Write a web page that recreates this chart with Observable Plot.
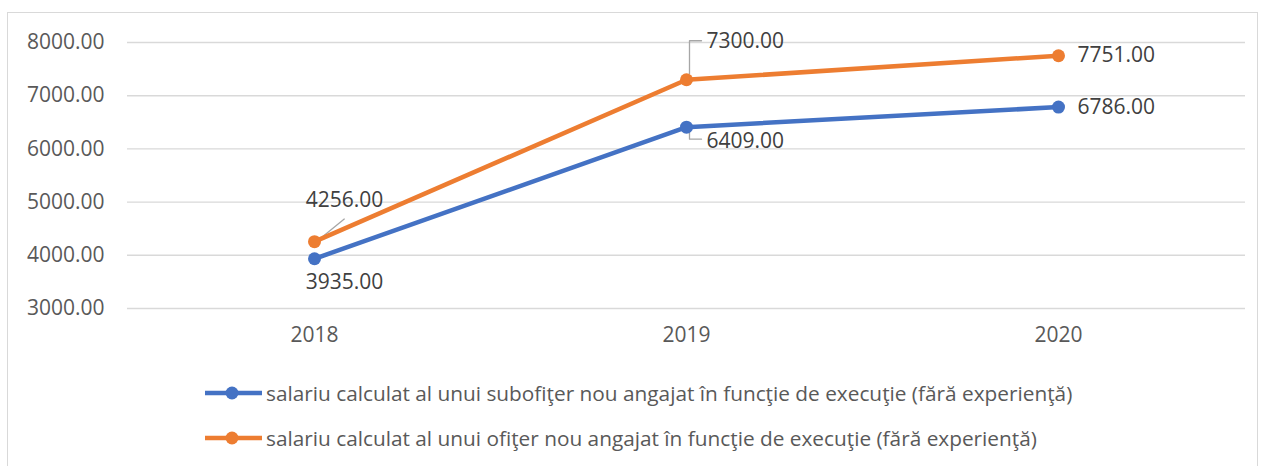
<!DOCTYPE html>
<html><head><meta charset="utf-8">
<script src="https://cdn.jsdelivr.net/npm/d3@7"></script>
<script src="https://cdn.jsdelivr.net/npm/@observablehq/plot@0.6"></script>
<style>
body{margin:0;background:#fff;font-family:"Open Sans",sans-serif;overflow:hidden;}
#frame{position:absolute;left:7px;top:12px;width:1249px;height:480px;border:1px solid #d9d9d9;border-bottom:none;}
#legend{padding-top:7px;margin-left:197px;}
.row{display:flex;align-items:center;height:45px;font-size:20.8px;color:#595959;white-space:nowrap;}
.row svg{margin-right:0;}
</style></head><body>
<div id="frame"><div id="chart"></div><div id="legend"></div></div>
<script>
const years = ["2018", "2019", "2020"];
const subofiterValues = [3935, 6409, 6786];
const ofiterValues = [4256, 7300, 7751];
const seriesNames = [
  "salariu calculat al unui subofiţer nou angajat în funcţie de execuţie (fără experienţă)",
  "salariu calculat al unui ofiţer nou angajat în funcţie de execuţie (fără experienţă)"
];
const seriesColors = ["#4472C4", "#ED7D31"];
const yTicks = [3000, 4000, 5000, 6000, 7000, 8000];

const rows = [
  ...years.map((year, i) => ({year, value: subofiterValues[i], series: seriesNames[0]})),
  ...years.map((year, i) => ({year, value: ofiterValues[i], series: seriesNames[1]}))
];
const pick = (s, y) => rows.filter(d => d.series === seriesNames[s] && d.year === y);
const fmt = d => d.toFixed(2);
const labelStyle = {x: "year", y: "value", text: d => fmt(d.value), fontSize: 21, fill: "#404040"};

// leader-line shapes
const straight = {draw(ctx, l) { ctx.moveTo(0, 0); ctx.lineTo(0, -l); }};
const elbowUp = {draw(ctx, l) { ctx.moveTo(0, 0); ctx.lineTo(0, -l); ctx.lineTo(12, -l); }};
const elbowDown = {draw(ctx, l) { ctx.moveTo(0, 0); ctx.lineTo(0, l); ctx.lineTo(12, l); }};
const leader = {x: "year", y: "value", stroke: "#a6a6a6", strokeWidth: 1.3, anchor: "start"};

const chart = Plot.plot({
  width: 1249,
  height: 350,
  marginLeft: 119,
  marginRight: 12,
  marginTop: 29,
  marginBottom: 55,
  style: {fontFamily: "Open Sans, sans-serif", fontSize: "21px", background: "transparent"},
  x: {type: "point", domain: years, padding: 0.5},
  y: {domain: [3000, 8000]},
  color: {domain: seriesNames, range: seriesColors},
  marks: [
    Plot.gridY(yTicks, {stroke: "#d9d9d9", strokeOpacity: 1, strokeWidth: 1.4}),
    Plot.axisY(yTicks, {tickSize: 0, tickPadding: 23, tickFormat: fmt, fontSize: 21, color: "#595959", label: null}),
    Plot.axisX({tickSize: 0, tickPadding: 19, fontSize: 21, color: "#595959", label: null}),
    Plot.vector(pick(1, "2018"), {...leader, length: 28, rotate: 51, dx: 8, dy: -5, shape: straight}),
    Plot.vector(pick(1, "2019"), {...leader, length: 33, dx: 3, dy: -6, shape: elbowUp}),
    Plot.vector(pick(0, "2019"), {...leader, length: 8, dx: 3, dy: 4, shape: elbowDown}),
    Plot.line(rows, {x: "year", y: "value", z: "series", stroke: "series", strokeWidth: 4.5}),
    Plot.dot(rows, {x: "year", y: "value", fill: "series", r: 6.5}),
    Plot.text(pick(1, "2018"), {...labelStyle, dx: 30, dy: -41}),
    Plot.text(pick(0, "2018"), {...labelStyle, dx: 30, dy: 24}),
    Plot.text(pick(1, "2019"), {...labelStyle, textAnchor: "start", dx: 20, dy: -38}),
    Plot.text(pick(0, "2019"), {...labelStyle, textAnchor: "start", dx: 20, dy: 14}),
    Plot.text(pick(1, "2020"), {...labelStyle, textAnchor: "start", dx: 19, dy: 0}),
    Plot.text(pick(0, "2020"), {...labelStyle, textAnchor: "start", dx: 19, dy: 0})
  ]
});
document.getElementById("chart").appendChild(chart);

const legend = document.getElementById("legend");
seriesNames.forEach((name, i) => {
  const row = document.createElement("div");
  row.className = "row";
  row.innerHTML = `<svg width="61" height="20"><line x1="0" x2="57" y1="10" y2="10" stroke="${seriesColors[i]}" stroke-width="4.5"/><circle cx="27" cy="10" r="6.5" fill="${seriesColors[i]}"/></svg><span>${name}</span>`;
  legend.appendChild(row);
});
</script>
</body></html>
